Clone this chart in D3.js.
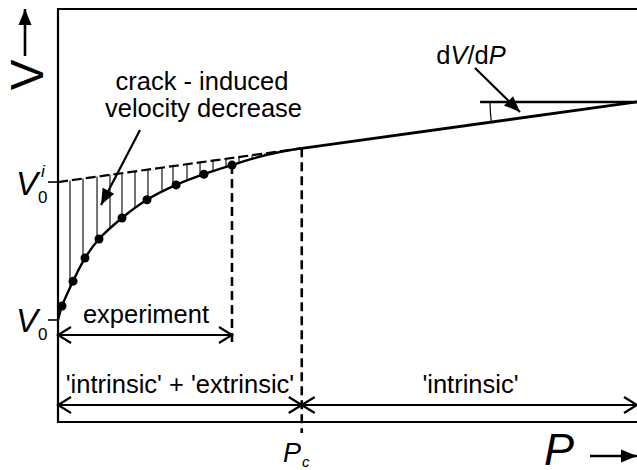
<!DOCTYPE html>
<html><head><meta charset="utf-8">
<script src="https://cdn.jsdelivr.net/npm/d3@7"></script>
<style>
body{margin:0;background:#fff}
svg{display:block}
text{font-family:"Liberation Sans",Arial,Helvetica,sans-serif;fill:#000}
</style>
</head><body>
<svg id="c" width="637" height="470"></svg>
<script>
// ---- data (arbitrary units) ----
const expP = [0.69, 2.6, 4.66, 7.08, 11.05, 15.37, 20.4, 25.2, 30.05];
const expV = [28.1, 34.1, 39.7, 44.3, 49.4, 53.8, 57.4, 60.0, 62.2];
const curveP = [0, 0.69, 2.6, 4.66, 7.08, 11.05, 15.37, 20.4, 25.2, 30.05, 33.16, 36.1, 39.2, 42.1];
const curveV = [24.7, 28.1, 34.1, 39.7, 44.3, 49.4, 53.8, 57.4, 60.0, 62.2, 63.6, 64.68, 65.61, 66.27];
const lineP = [0, 42.1, 100];
const lineV = [58.1, 66.27, 77.5];
const hatchP = [2.07, 4.32, 6.74, 8.98, 11.05, 13.3, 15.54, 17.96, 19.86, 22.28, 24.53, 26.77, 29.02, 31.26, 33.51, 35.75, 38.0, 40.24];
const V0 = 24.7, V0i = 58.1, Pc = 42.1, Pexp = 30.05, Pref = 72.9;

const svg = d3.select("#c");
const x = d3.scaleLinear().domain([0, 100]).range([58, 637]);
const y = d3.scaleLinear().domain([0, 100]).range([422, 9]);
const lineAt = d3.scaleLinear().domain(lineP).range(lineV);

// markers
const defs = svg.append("defs");
defs.append("marker").attr("id", "fill").attr("markerUnits", "userSpaceOnUse")
  .attr("viewBox", "-17 -8 18 16").attr("refX", 0).attr("refY", 0)
  .attr("markerWidth", 18).attr("markerHeight", 16).attr("orient", "auto")
  .append("path").attr("d", "M-16,-6.5L0,0L-16,6.5Z").attr("fill", "#000");
defs.append("marker").attr("id", "open").attr("markerUnits", "userSpaceOnUse")
  .attr("viewBox", "-15 -10 17 20").attr("refX", 0).attr("refY", 0)
  .attr("markerWidth", 17).attr("markerHeight", 20).attr("orient", "auto-start-reverse")
  .append("path").attr("d", "M-13,-8L0,0L-13,8").attr("fill", "none")
  .attr("stroke", "#000").attr("stroke-width", 2.2);

// clip for hatching: area between intrinsic line and measured curve
const pts = curveP.map((p, i) => [p, curveV[i]]);
defs.append("clipPath").attr("id", "hclip").append("path")
  .attr("d", d3.area().x(d => x(d[0])).y0(d => y(d[1])).y1(d => y(lineAt(d[0])))
    .curve(d3.curveCatmullRom.alpha(0.5))(pts));

// frame
svg.append("path").attr("d", `M${x(100)+2},${y(100)}H${x(0)}V${y(0)}H${x(100)+2}`)
  .attr("fill", "none").attr("stroke", "#000").attr("stroke-width", 2.2);

// hatching
svg.append("g").attr("clip-path", "url(#hclip)").selectAll("line").data(hatchP).join("line")
  .attr("x1", d => x(d)).attr("x2", d => x(d))
  .attr("y1", d => y(lineAt(d)) - 2).attr("y2", y(0))
  .attr("stroke", "#000").attr("stroke-width", 1.1);

// intrinsic line: dashed up to Pc, solid beyond
svg.append("line").attr("x1", x(0)).attr("y1", y(lineAt(0))).attr("x2", x(Pc)).attr("y2", y(lineAt(Pc)))
  .attr("stroke", "#000").attr("stroke-width", 2.2).attr("stroke-dasharray", "10,4");
svg.append("line").attr("x1", x(Pc)).attr("y1", y(lineAt(Pc))).attr("x2", x(100)).attr("y2", y(lineAt(100)))
  .attr("stroke", "#000").attr("stroke-width", 2.8);

// measured curve
svg.append("path").attr("d", d3.line().x(d => x(d[0])).y(d => y(d[1])).curve(d3.curveCatmullRom.alpha(0.5))(pts))
  .attr("fill", "none").attr("stroke", "#000").attr("stroke-width", 2.4);
svg.selectAll("circle.pt").data(expP).join("circle").attr("class", "pt")
  .attr("cx", d => x(d)).attr("cy", (d, i) => y(expV[i])).attr("r", 4.5).attr("fill", "#000");

// vertical dashed lines
svg.append("line").attr("x1", x(Pexp)).attr("x2", x(Pexp)).attr("y1", y(expV[expV.length - 1])).attr("y2", 345)
  .attr("stroke", "#000").attr("stroke-width", 2.6).attr("stroke-dasharray", "9,5");
svg.append("line").attr("x1", x(Pc)).attr("x2", x(Pc)).attr("y1", y(lineAt(Pc))).attr("y2", 433)
  .attr("stroke", "#000").attr("stroke-width", 2.6).attr("stroke-dasharray", "9,5");

// y ticks
[V0, V0i].forEach(v => svg.append("line").attr("x1", x(0) - 10).attr("x2", x(0)).attr("y1", y(v)).attr("y2", y(v))
  .attr("stroke", "#000").attr("stroke-width", 1.6));

// double arrows
function dbl(a, b, yy) {
  svg.append("line").attr("x1", x(a)).attr("x2", x(b)).attr("y1", yy).attr("y2", yy)
    .attr("stroke", "#000").attr("stroke-width", 2.2)
    .attr("marker-start", "url(#open)").attr("marker-end", "url(#open)");
}
dbl(0, Pexp, 335);
dbl(0, Pc, 405);
dbl(Pc, 100, 405);

const fs = 25.5;
svg.append("text").attr("x", (x(0) + x(Pexp)) / 2 + 1).attr("y", 323).attr("text-anchor", "middle").attr("font-size", fs).text("experiment");
svg.append("text").attr("x", 180).attr("y", 393).attr("text-anchor", "middle").attr("font-size", fs).text("'intrinsic' + 'extrinsic'");
svg.append("text").attr("x", 470.5).attr("y", 393).attr("text-anchor", "middle").attr("font-size", fs).text("'intrinsic'");
svg.append("text").attr("x", 202).attr("y", 90).attr("text-anchor", "middle").attr("font-size", fs).text("crack - induced");
svg.append("text").attr("x", 203.5).attr("y", 117).attr("text-anchor", "middle").attr("font-size", fs).text("velocity decrease");

// crack arrow
svg.append("line").attr("x1", 140).attr("y1", 130).attr("x2", 101).attr("y2", 205)
  .attr("stroke", "#000").attr("stroke-width", 2.2).attr("marker-end", "url(#fill)");

// dV/dP
const t = svg.append("text").attr("x", 471).attr("y", 64).attr("text-anchor", "middle").attr("font-size", fs);
t.append("tspan").text("d");
t.append("tspan").attr("font-style", "italic").text("V");
t.append("tspan").text("/d");
t.append("tspan").attr("font-style", "italic").text("P");
svg.append("line").attr("x1", 475).attr("y1", 68).attr("x2", 520).attr("y2", 112)
  .attr("stroke", "#000").attr("stroke-width", 2.2).attr("marker-end", "url(#fill)");
svg.append("line").attr("x1", x(Pref)).attr("x2", x(100)).attr("y1", y(lineAt(100))).attr("y2", y(lineAt(100)))
  .attr("stroke", "#000").attr("stroke-width", 2.6);
{
  const cx = x(100), cy = y(lineAt(100));
  const r = 147;
  const th = Math.atan2(y(lineAt(0)) - y(lineAt(100)), x(100) - x(0));
  svg.append("path").attr("d", `M${cx - r},${cy}A${r},${r} 0 0 0 ${cx - r * Math.cos(th)},${cy + r * Math.sin(th)}`)
    .attr("fill", "none").attr("stroke", "#000").attr("stroke-width", 1.2);
}

// V0 labels
function vlab(yb, sub, sup) {
  const g = svg.append("g");
  g.append("text").attr("x", 16).attr("y", yb).attr("font-size", 33).attr("font-style", "italic").text("V");
  g.append("text").attr("x", 38).attr("y", yb + 8).attr("font-size", 17).text(sub);
  if (sup) g.append("text").attr("x", 41).attr("y", yb - 18).attr("font-size", 17).attr("font-style", "italic").text(sup);
}
vlab(195, "0", "i");
vlab(332, "0", null);

// Pc label
svg.append("text").attr("x", 283).attr("y", 462).attr("font-size", 27).attr("font-style", "italic").text("P");
svg.append("text").attr("x", 302).attr("y", 467).attr("font-size", 15).attr("font-style", "italic").text("c");

// axis labels with arrows
svg.append("text").attr("x", 544).attr("y", 465).attr("font-size", 45).attr("font-style", "italic").text("P");
svg.append("line").attr("x1", 590).attr("x2", 637).attr("y1", 456).attr("y2", 456)
  .attr("stroke", "#000").attr("stroke-width", 2.6).attr("marker-end", "url(#fill)");
svg.append("text").attr("transform", "translate(43,75) rotate(-90)").attr("text-anchor", "middle")
  .attr("font-size", 46).text("V");
svg.append("line").attr("x1", 25).attr("x2", 25).attr("y1", 56).attr("y2", 9)
  .attr("stroke", "#000").attr("stroke-width", 2.6).attr("marker-end", "url(#fill)");
</script>
</body></html>
